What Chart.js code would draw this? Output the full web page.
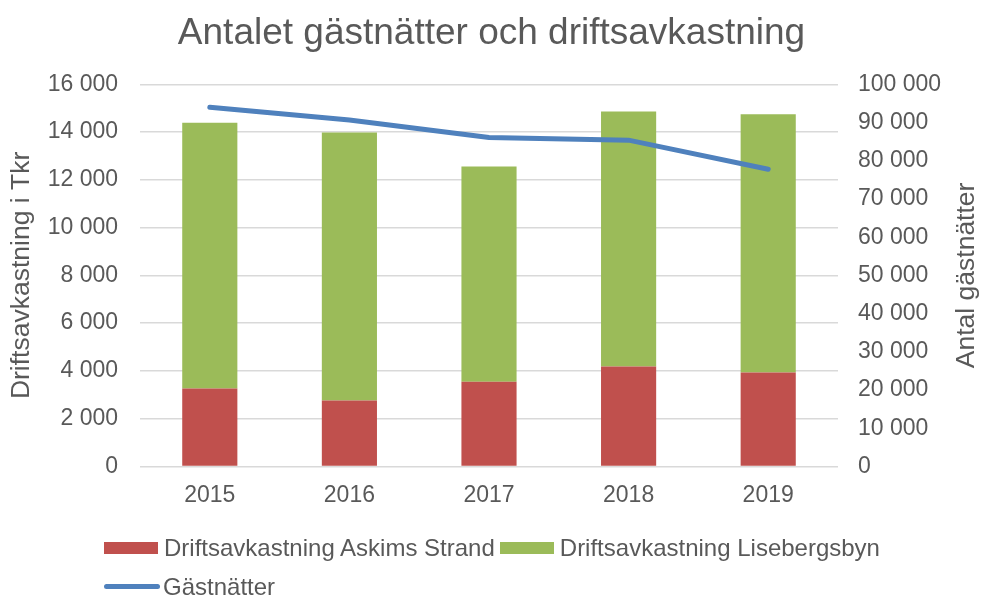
<!DOCTYPE html>
<html>
<head>
<meta charset="utf-8">
<script src="https://cdn.jsdelivr.net/npm/chart.js@4/dist/chart.umd.min.js"></script>
<style>
  body { margin: 0; background: #fff; }
  #wrap { position: relative; width: 983px; height: 596px; }
  #legend { position: absolute; left: 104px; top: 528px; font: 24px "Liberation Sans", Arial, sans-serif; color: #595959; }
  #legend .row { display: flex; align-items: center; height: 39px; white-space: nowrap; }
  #legend .item { display: flex; align-items: center; margin-right: 5px; }
  #legend .box { width: 54px; height: 12px; margin-right: 6px; }
  #legend .ln { width: 56px; height: 5px; border-radius: 3px; margin-right: 3px; }
</style>
</head>
<body>
<div id="wrap">
  <canvas id="myChart"></canvas>
  <div id="legend"></div>
</div>
<script>
var categories = ["2015", "2016", "2017", "2018", "2019"];
var askimsStrand = [3260, 2760, 3550, 4180, 3930];
var lisebergsbyn = [11130, 11230, 9010, 10680, 10820];
var gastnatter = [94000, 90700, 86100, 85400, 77800];

var grey = "#595959";
var font = "'Liberation Sans', Arial, sans-serif";

function fmt(v) {
  return String(v).replace(/\B(?=(\d{3})+(?!\d))/g, " ");
}

// right axis title reads bottom-to-top like Excel
var rightTitle = {
  id: "rightTitle",
  afterDraw: function(chart) {
    var ctx = chart.ctx;
    var area = chart.chartArea;
    ctx.save();
    ctx.translate(967, (area.top + area.bottom) / 2);
    ctx.rotate(-Math.PI / 2);
    ctx.font = "26.5px " + font;
    ctx.fillStyle = grey;
    ctx.textAlign = "center";
    ctx.textBaseline = "middle";
    ctx.fillText("Antal gästnätter", 0, 0);
    ctx.restore();
  }
};

var ctx = document.getElementById("myChart").getContext("2d");
var myChart = new Chart(ctx, {
  type: "bar",
  data: {
    labels: categories,
    datasets: [
      {
        label: "Driftsavkastning Askims Strand",
        data: askimsStrand,
        backgroundColor: "#C0504D",
        yAxisID: "y",
        order: 2,
        barPercentage: 0.395,
        categoryPercentage: 1
      },
      {
        label: "Driftsavkastning Lisebergsbyn",
        data: lisebergsbyn,
        backgroundColor: "#9BBB59",
        yAxisID: "y",
        order: 2,
        barPercentage: 0.395,
        categoryPercentage: 1
      },
      {
        type: "line",
        label: "Gästnätter",
        data: gastnatter,
        borderColor: "#4F81BD",
        backgroundColor: "#4F81BD",
        borderWidth: 5,
        borderCapStyle: "round",
        pointRadius: 0,
        tension: 0,
        yAxisID: "y1",
        order: 1
      }
    ]
  },
  options: {
    responsive: true,
    maintainAspectRatio: false,
    animation: false,
    layout: { padding: { left: 0, right: 0, top: 0, bottom: 80 } },
    plugins: {
      legend: { display: false },
      tooltip: { enabled: false },
      title: {
        display: true,
        text: "Antalet gästnätter och driftsavkastning",
        color: grey,
        font: { family: font, size: 37, weight: "normal", lineHeight: 1.2 },
        padding: { top: 12, bottom: 28 }
      }
    },
    scales: {
      x: {
        stacked: true,
        grid: { display: false },
        border: { display: false },
        ticks: { color: grey, font: { family: font, size: 23 }, padding: 7 }
      },
      y: {
        stacked: true,
        position: "left",
        min: 0,
        max: 16000,
        afterFit: function(s) { s.width = 140; },
        ticks: { stepSize: 2000, color: grey, padding: 22, font: { family: font, size: 23 }, callback: fmt },
        grid: { color: "#D9D9D9", lineWidth: 1.5, drawTicks: false },
        border: { display: false },
        title: {
          display: true,
          text: "Driftsavkastning i Tkr",
          color: grey,
          font: { family: font, size: 26.5 },
          padding: { top: 6, bottom: 4 }
        }
      },
      y1: {
        position: "right",
        min: 0,
        max: 100000,
        afterFit: function(s) { s.width = 145; },
        ticks: { stepSize: 10000, color: grey, padding: 20, font: { family: font, size: 23 }, callback: fmt },
        grid: { display: false, drawTicks: false },
        border: { display: false }
      }
    }
  },
  plugins: [rightTitle]
});

// html legend, rows as in the original
var items = myChart.options.plugins.legend.labels.generateLabels(myChart)
  .sort(function(a, b) { return a.datasetIndex - b.datasetIndex; });
var legend = document.getElementById("legend");
var rows = [[items[0], items[1]], [items[2]]];
rows.forEach(function(r) {
  var row = document.createElement("div");
  row.className = "row";
  r.forEach(function(it) {
    var item = document.createElement("div");
    item.className = "item";
    var sw = document.createElement("span");
    var isLine = myChart.data.datasets[it.datasetIndex].type === "line";
    sw.className = isLine ? "ln" : "box";
    sw.style.background = isLine ? it.strokeStyle : it.fillStyle;
    var t = document.createElement("span");
    t.textContent = it.text;
    item.appendChild(sw);
    item.appendChild(t);
    row.appendChild(item);
  });
  legend.appendChild(row);
});
</script>
</body>
</html>
